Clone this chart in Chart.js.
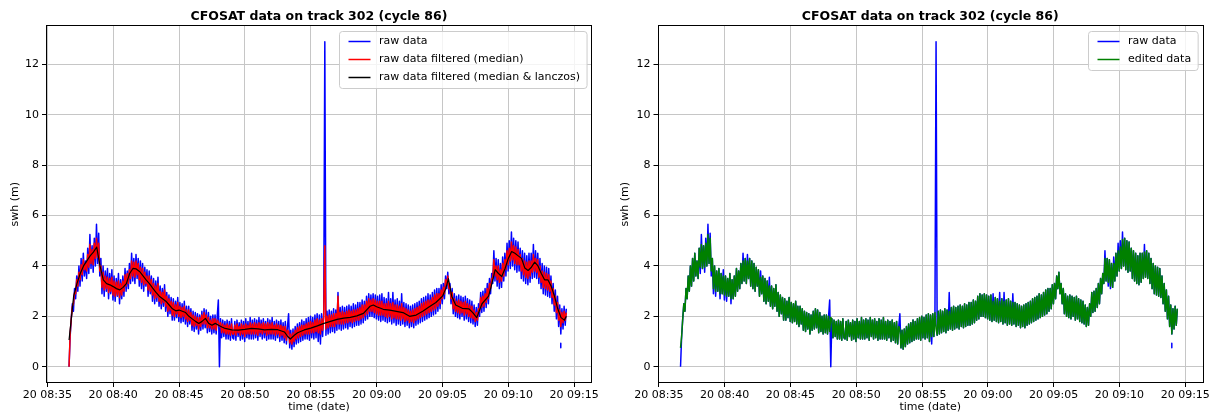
<!DOCTYPE html>
<html><head><meta charset="utf-8">
<script src="https://cdn.jsdelivr.net/npm/chart.js@4/dist/chart.umd.min.js"></script>
<style>
html,body{margin:0;padding:0;background:#fff;}
#wrap{position:relative;width:1217px;height:417px;overflow:hidden;}
.box{position:absolute;top:0;height:417px;}
canvas{display:block;}
</style></head><body>
<div id="wrap">
<div class="box" style="left:0;width:610px"><canvas id="c1" width="610" height="417"></canvas></div>
<div class="box" style="left:610px;width:607px"><canvas id="c2" width="607" height="417"></canvas></div>
</div>
<script>
// ---------- data (time in minutes after 08:00 on day 20) ----------
const chartTitle = 'CFOSAT data on track 302 (cycle 86)';
const xTickValues = [35, 40, 45, 50, 55, 60, 65, 70, 75];
const yTickValues = [0, 2, 4, 6, 8, 10, 12];
const xMin = 34.9, xMax = 76.35;
const yMin = -0.645, yMax = 13.545;

const rawStart = 36.65;      // 08:36:39
const rawStep = 1 / 12;      // 5 s sampling

const rawSwh = [
  0.0, 1.2, 1.9, 2.5, 2.2, 3.1,
  2.7, 3.6, 3.0, 4.0, 3.2, 4.3,
  3.4, 4.5, 3.6, 4.2, 3.5, 4.7,
  3.7, 5.25, 3.9, 4.8, 3.75, 5.1,
  4.0, 5.65, 4.1, 5.3, 3.6, 4.3,
  2.9, 4.0, 2.8, 3.8, 3.0, 3.9,
  2.7, 3.7, 2.9, 3.85, 2.65, 3.6,
  2.6, 3.5, 2.8, 3.7, 2.5, 3.45,
  2.7, 3.6, 2.8, 3.9, 3.0, 3.8,
  3.1, 4.1, 3.3, 4.5, 3.4, 4.3,
  3.3, 4.45, 3.5, 4.3, 3.2, 4.2,
  3.1, 4.1, 3.0, 3.95, 3.2, 3.85,
  2.8, 3.8, 2.9, 3.6, 2.6, 3.5,
  2.5, 3.4, 2.6, 3.55, 2.4, 3.2,
  2.3, 3.1, 2.4, 3.25, 2.2, 2.95,
  2.0, 2.85, 2.1, 2.75, 1.85, 2.7,
  1.85, 2.6, 1.95, 2.75, 1.8, 2.55,
  1.75, 2.5, 1.8, 2.6, 1.7, 2.4,
  1.6, 2.4, 1.7, 2.3, 1.45, 2.2,
  1.4, 2.15, 1.5, 2.1, 1.3, 2.05,
  1.45, 2.2, 1.5, 2.3, 1.55, 2.25,
  1.35, 2.15, 1.4, 2.0, 1.3, 2.05,
  1.35, 2.05, 1.3, 2.0, 2.65, 0.0,
  1.9, 1.15, 1.85, 1.2, 1.8, 1.1,
  1.85, 1.1, 1.8, 1.05, 1.9, 1.15,
  1.1, 1.8, 1.05, 1.85, 1.2, 1.75,
  1.05, 1.85, 1.1, 1.8, 1.0, 1.9,
  1.15, 1.8, 1.1, 1.95, 1.1, 1.85,
  1.1, 1.9, 1.15, 1.85, 1.05, 1.95,
  1.2, 1.85, 1.1, 1.9, 1.15, 1.8,
  1.05, 1.9, 1.1, 1.85, 1.1, 1.95,
  1.1, 1.8, 1.05, 1.85, 1.15, 1.8,
  1.0, 1.85, 1.05, 1.75, 0.95, 1.8,
  0.9, 1.6, 2.1, 0.75, 1.45, 0.7,
  1.5, 0.8, 1.6, 0.9, 1.7, 0.95,
  1.75, 1.0, 1.85, 1.05, 1.8, 1.1,
  1.9, 1.1, 1.95, 1.05, 2.0, 1.15,
  1.95, 1.1, 2.05, 1.15, 2.1, 1.0,
  2.05, 0.9, 2.1, 1.2, 2.15, 12.9,
  1.25, 2.2, 1.3, 2.25, 1.35, 2.2,
  1.4, 2.3, 1.35, 2.25, 1.45, 2.95,
  1.5, 2.35, 1.45, 2.4, 1.5, 2.35,
  1.55, 2.4, 1.5, 2.45, 1.6, 2.4,
  1.55, 2.5, 1.6, 2.45, 1.65, 2.55,
  1.65, 2.55, 1.7, 2.65, 1.75, 2.6,
  1.85, 2.8, 1.9, 2.9, 2.0, 2.85,
  2.0, 2.9, 1.95, 2.85, 1.9, 2.8,
  1.85, 2.85, 1.8, 2.9, 1.85, 2.75,
  1.8, 2.7, 1.75, 2.95, 1.8, 2.7,
  1.7, 2.95, 1.75, 2.65, 1.65, 2.7,
  1.7, 2.6, 1.65, 2.9, 1.7, 2.55,
  1.6, 2.5, 1.65, 2.45, 1.55, 2.4,
  1.6, 2.45, 1.55, 2.5, 1.65, 2.55,
  1.7, 2.6, 1.75, 2.7, 1.8, 2.75,
  1.85, 2.8, 1.9, 2.9, 1.95, 2.85,
  2.0, 2.95, 2.05, 3.05, 2.1, 3.1,
  2.2, 3.1, 2.3, 3.25, 2.5, 3.3,
  2.7, 3.6, 3.1, 3.75, 2.9, 3.3,
  2.5, 3.1, 2.1, 2.9, 2.0, 2.8,
  1.95, 2.85, 1.9, 2.8, 2.0, 2.75,
  1.85, 2.8, 1.9, 2.7, 1.8, 2.65,
  1.75, 2.6, 1.7, 2.45, 1.6, 2.35,
  1.65, 2.5, 2.0, 2.95, 2.15, 3.0,
  2.2, 3.1, 2.35, 3.3, 2.5, 3.5,
  2.9, 3.7, 3.3, 4.6, 3.4, 4.3,
  3.2, 4.25, 3.1, 4.1, 3.15, 4.35,
  3.4, 4.5, 3.6, 4.9, 3.8, 5.0,
  3.9, 5.35, 4.0, 5.1, 3.85, 5.0,
  3.75, 4.95, 3.8, 4.7, 3.5, 4.6,
  3.4, 4.5, 3.3, 4.4, 3.25, 4.5,
  3.35, 4.5, 3.5, 4.85, 3.55, 4.6,
  3.5, 4.5, 3.3, 4.3, 3.1, 4.1,
  2.9, 4.0, 2.85, 3.95, 2.8, 3.9,
  2.75, 3.6, 2.5, 3.3, 2.2, 3.05,
  1.9, 2.8, 1.6, 2.45, 1.3, 2.3,
  1.5, 2.4, 1.65, 2.3
];

const medianSwh = [
  0.0, 1.3, 1.9, 2.4, 2.5, 2.95,
  2.9, 3.45, 3.2, 3.75, 3.45, 4.05,
  3.65, 4.25, 3.85, 4.1, 3.8, 4.45,
  3.95, 4.85, 4.1, 4.65, 4.05, 4.9,
  4.3, 5.1, 4.35, 4.9, 3.8, 4.0,
  3.15, 3.75, 3.05, 3.6, 3.1, 3.55,
  2.95, 3.5, 3.0, 3.55, 2.85, 3.4,
  2.8, 3.35, 2.85, 3.4, 2.75, 3.3,
  2.85, 3.4, 3.0, 3.65, 3.2, 3.7,
  3.3, 3.85, 3.5, 4.2, 3.6, 4.15,
  3.55, 4.2, 3.65, 4.1, 3.45, 3.95,
  3.35, 3.9, 3.25, 3.75, 3.3, 3.6,
  3.05, 3.6, 3.0, 3.45, 2.85, 3.3,
  2.7, 3.2, 2.75, 3.3, 2.6, 3.0,
  2.5, 2.95, 2.55, 3.05, 2.4, 2.8,
  2.2, 2.7, 2.25, 2.6, 2.05, 2.55,
  2.0, 2.45, 2.1, 2.55, 2.0, 2.4,
  1.95, 2.35, 2.0, 2.4, 1.9, 2.25,
  1.8, 2.25, 1.85, 2.15, 1.65, 2.05,
  1.6, 2.0, 1.65, 1.95, 1.5, 1.95,
  1.6, 2.05, 1.7, 2.15, 1.7, 2.05,
  1.55, 1.95, 1.55, 1.85, 1.5, 1.9,
  1.5, 1.9, 1.45, 1.85, 1.8, 1.6,
  1.75, 1.35, 1.7, 1.35, 1.65, 1.3,
  1.7, 1.3, 1.65, 1.25, 1.7, 1.3,
  1.3, 1.65, 1.25, 1.7, 1.35, 1.6,
  1.25, 1.7, 1.3, 1.65, 1.2, 1.7,
  1.3, 1.65, 1.3, 1.75, 1.3, 1.7,
  1.3, 1.75, 1.3, 1.7, 1.25, 1.75,
  1.35, 1.7, 1.3, 1.75, 1.35, 1.7,
  1.25, 1.75, 1.3, 1.7, 1.3, 1.75,
  1.3, 1.65, 1.25, 1.7, 1.3, 1.65,
  1.2, 1.65, 1.25, 1.6, 1.15, 1.6,
  1.05, 1.45, 1.4, 0.95, 1.3, 0.9,
  1.35, 1.0, 1.45, 1.1, 1.55, 1.15,
  1.6, 1.2, 1.65, 1.25, 1.65, 1.3,
  1.7, 1.3, 1.75, 1.3, 1.8, 1.35,
  1.75, 1.35, 1.85, 1.4, 1.9, 1.35,
  1.85, 1.3, 1.9, 1.45, 1.95, 4.8,
  1.5, 2.0, 1.55, 2.05, 1.6, 2.05,
  1.6, 2.1, 1.6, 2.1, 1.7, 2.8,
  1.7, 2.15, 1.7, 2.2, 1.7, 2.15,
  1.75, 2.2, 1.75, 2.25, 1.8, 2.2,
  1.75, 2.25, 1.8, 2.25, 1.85, 2.3,
  1.85, 2.35, 1.9, 2.45, 1.95, 2.45,
  2.05, 2.6, 2.1, 2.7, 2.2, 2.65,
  2.2, 2.7, 2.15, 2.65, 2.1, 2.6,
  2.05, 2.6, 2.05, 2.6, 2.05, 2.5,
  2.0, 2.5, 1.95, 2.6, 2.0, 2.5,
  1.9, 2.55, 1.95, 2.45, 1.9, 2.45,
  1.9, 2.4, 1.85, 2.5, 1.9, 2.35,
  1.8, 2.3, 1.85, 2.25, 1.75, 2.2,
  1.8, 2.25, 1.75, 2.3, 1.85, 2.35,
  1.9, 2.4, 1.95, 2.5, 2.0, 2.55,
  2.05, 2.6, 2.1, 2.65, 2.15, 2.65,
  2.2, 2.75, 2.25, 2.85, 2.3, 2.9,
  2.4, 2.9, 2.5, 3.05, 2.7, 3.15,
  2.9, 3.45, 3.25, 3.6, 3.1, 3.15,
  2.7, 2.95, 2.3, 2.7, 2.2, 2.6,
  2.15, 2.65, 2.1, 2.6, 2.15, 2.55,
  2.05, 2.6, 2.1, 2.5, 2.0, 2.45,
  1.95, 2.4, 1.9, 2.25, 1.8, 2.15,
  1.85, 2.3, 2.2, 2.75, 2.35, 2.8,
  2.4, 2.9, 2.55, 3.1, 2.7, 3.3,
  3.1, 3.5, 3.5, 4.25, 3.6, 4.0,
  3.45, 4.0, 3.35, 3.85, 3.4, 4.1,
  3.6, 4.25, 3.85, 4.6, 4.05, 4.7,
  4.2, 4.95, 4.25, 4.8, 4.1, 4.75,
  4.05, 4.65, 4.05, 4.45, 3.8, 4.3,
  3.65, 4.2, 3.55, 4.15, 3.5, 4.2,
  3.6, 4.2, 3.75, 4.45, 3.8, 4.3,
  3.75, 4.25, 3.55, 4.0, 3.35, 3.8,
  3.15, 3.75, 3.1, 3.7, 3.05, 3.65,
  3.0, 3.4, 2.75, 3.1, 2.45, 2.8,
  2.15, 2.55, 1.85, 2.25, 1.6, 2.15,
  1.75, 2.2, 1.85, 2.15
];

const editedSwh = [
  0.75, 1.2, 1.9, 2.5, 2.2, 3.1,
  2.7, 3.6, 3.0, 4.0, 3.2, 4.3,
  3.4, 4.5, 3.6, 4.2, 3.5, 4.7,
  3.95, 4.85, 3.9, 4.8, 3.95, 4.9,
  4.0, 5.25, 4.1, 5.1, 3.8, 4.3,
  3.1, 4.0, 3.0, 3.8, 3.0, 3.9,
  2.9, 3.7, 2.9, 3.6, 2.85, 3.6,
  2.8, 3.5, 2.8, 3.7, 2.7, 3.45,
  2.7, 3.6, 2.8, 3.9, 3.0, 3.8,
  3.1, 4.1, 3.3, 4.2, 3.4, 4.3,
  3.3, 4.2, 3.5, 4.3, 3.2, 4.2,
  3.1, 4.1, 3.0, 3.95, 3.2, 3.85,
  2.8, 3.55, 2.9, 3.6, 2.6, 3.5,
  2.5, 3.4, 2.6, 3.2, 2.4, 3.2,
  2.3, 3.1, 2.4, 3.25, 2.2, 2.95,
  2.0, 2.85, 2.1, 2.75, 1.85, 2.7,
  1.85, 2.6, 1.95, 2.75, 1.8, 2.55,
  1.75, 2.5, 1.8, 2.6, 1.7, 2.4,
  1.6, 2.4, 1.7, 2.3, 1.45, 2.2,
  1.4, 2.15, 1.5, 2.1, 1.3, 2.05,
  1.45, 2.2, 1.5, 2.3, 1.55, 2.25,
  1.35, 2.15, 1.4, 2.0, 1.3, 2.05,
  1.35, 2.05, 1.3, 2.0, 1.4, 1.95,
  1.9, 1.15, 1.85, 1.2, 1.8, 1.1,
  1.85, 1.1, 1.8, 1.05, 1.9, 1.15,
  1.1, 1.8, 1.05, 1.85, 1.2, 1.75,
  1.05, 1.85, 1.1, 1.8, 1.0, 1.9,
  1.15, 1.8, 1.1, 1.95, 1.1, 1.85,
  1.1, 1.9, 1.15, 1.85, 1.05, 1.95,
  1.2, 1.85, 1.1, 1.9, 1.15, 1.8,
  1.05, 1.9, 1.1, 1.85, 1.1, 1.95,
  1.1, 1.8, 1.05, 1.85, 1.15, 1.8,
  1.0, 1.85, 1.05, 1.75, 0.95, 1.8,
  0.9, 1.6, 1.5, 0.75, 1.45, 0.7,
  1.5, 0.8, 1.6, 0.9, 1.7, 0.95,
  1.75, 1.0, 1.85, 1.05, 1.8, 1.1,
  1.9, 1.1, 1.95, 1.05, 2.0, 1.15,
  1.95, 1.1, 2.05, 1.15, 2.1, 1.0,
  2.05, 1.2, 2.1, 1.2, 2.15, 1.5,
  1.25, 2.2, 1.3, 2.25, 1.35, 2.2,
  1.4, 2.3, 1.35, 2.25, 1.45, 2.2,
  1.5, 2.35, 1.45, 2.4, 1.5, 2.35,
  1.55, 2.4, 1.5, 2.45, 1.6, 2.4,
  1.55, 2.5, 1.6, 2.45, 1.65, 2.55,
  1.65, 2.55, 1.7, 2.65, 1.75, 2.6,
  1.85, 2.8, 1.9, 2.9, 2.0, 2.85,
  2.0, 2.9, 1.95, 2.85, 1.9, 2.8,
  1.85, 2.85, 1.8, 2.6, 1.85, 2.75,
  1.8, 2.7, 1.75, 2.6, 1.8, 2.7,
  1.7, 2.6, 1.75, 2.65, 1.65, 2.7,
  1.7, 2.6, 1.65, 2.55, 1.7, 2.55,
  1.6, 2.5, 1.65, 2.45, 1.55, 2.4,
  1.6, 2.45, 1.55, 2.5, 1.65, 2.55,
  1.7, 2.6, 1.75, 2.7, 1.8, 2.75,
  1.85, 2.8, 1.9, 2.9, 1.95, 2.85,
  2.0, 2.95, 2.05, 3.05, 2.1, 3.1,
  2.2, 3.1, 2.3, 3.25, 2.5, 3.3,
  2.7, 3.6, 3.1, 3.75, 2.9, 3.3,
  2.5, 3.1, 2.1, 2.9, 2.0, 2.8,
  1.95, 2.85, 1.9, 2.8, 2.0, 2.75,
  1.85, 2.8, 1.9, 2.7, 1.8, 2.65,
  1.75, 2.6, 1.7, 2.45, 1.6, 2.35,
  1.65, 2.5, 2.0, 2.95, 2.15, 3.0,
  2.2, 3.1, 2.35, 3.3, 2.5, 3.5,
  2.9, 3.7, 3.3, 4.3, 3.4, 4.3,
  3.35, 4.25, 3.2, 4.1, 3.15, 4.1,
  3.4, 4.5, 3.6, 4.6, 3.8, 4.75,
  3.9, 5.05, 4.0, 5.1, 3.85, 5.0,
  3.75, 4.95, 3.8, 4.7, 3.5, 4.6,
  3.4, 4.5, 3.3, 4.4, 3.25, 4.5,
  3.35, 4.5, 3.5, 4.55, 3.55, 4.6,
  3.5, 4.5, 3.3, 4.3, 3.1, 4.1,
  2.9, 4.0, 2.85, 3.95, 2.8, 3.9,
  2.75, 3.6, 2.5, 3.3, 2.2, 3.05,
  1.9, 2.8, 1.6, 2.45, 1.3, 2.3,
  1.5, 2.4, 1.65, 2.3
];

const lanczosTime = [
  36.65, 36.8, 37.0, 37.25, 37.5, 37.75, 38.0, 38.25, 38.5, 38.75,
  39.0, 39.25, 39.5, 39.75, 40.0, 40.25, 40.5, 40.75, 41.0,
  41.25, 41.5, 41.75, 42.0, 42.25, 42.5, 42.75, 43.0, 43.25, 43.5, 43.75,
  44.0, 44.25, 44.5, 44.75, 45.0, 45.25, 45.5, 45.75, 46.0, 46.25,
  46.5, 46.75, 47.0, 47.25, 47.5, 47.75, 48.0, 48.25, 48.5,
  49.0, 49.5, 50.0, 50.5, 51.0, 51.5, 52.0, 52.5, 53.0,
  53.25, 53.45, 53.75,
  54.0, 54.5, 55.0, 55.5, 56.0, 56.5, 57.0, 57.5, 58.0, 58.5, 59.0, 59.5,
  59.75,
  60.0, 60.5, 61.0, 61.5, 62.0, 62.5, 63.0, 63.5, 64.0, 64.5, 65.0,
  65.25, 65.45, 65.7, 66.0, 66.5, 67.0, 67.3, 67.6, 68.0, 68.5,
  68.75, 69.0, 69.25, 69.5, 69.75, 70.0, 70.25, 70.5, 70.75, 71.0, 71.25,
  71.5, 71.75, 72.0, 72.25, 72.5, 72.75, 73.0, 73.25, 73.5, 73.75, 74.0, 74.25,
  74.4
];
const lanczosSwh = [
  1.06, 1.8, 2.8, 3.3, 3.7, 4.0, 4.2, 4.4, 4.55, 4.75,
  4.0, 3.45, 3.3, 3.25, 3.18, 3.1, 3.05, 3.15, 3.3,
  3.7, 3.9, 3.88, 3.78, 3.62, 3.45, 3.3, 3.12, 2.95, 2.8, 2.7,
  2.6, 2.45, 2.3, 2.22, 2.25, 2.2, 2.15, 2.0, 1.9, 1.8,
  1.72, 1.8, 1.92, 1.72, 1.65, 1.72, 1.65, 1.58, 1.52,
  1.46, 1.45, 1.48, 1.52, 1.5, 1.46, 1.48, 1.47, 1.38,
  1.2, 1.1, 1.25,
  1.35, 1.46, 1.53, 1.62, 1.72, 1.8, 1.88, 1.93, 1.96, 2.02, 2.12, 2.4,
  2.45,
  2.38, 2.28, 2.25, 2.2, 2.15, 2.0, 2.05, 2.2, 2.38, 2.55, 2.8,
  3.1, 3.5, 2.8, 2.45, 2.32, 2.3, 2.15, 1.95, 2.5, 2.8,
  3.3, 3.85, 3.7, 3.58, 3.9, 4.3, 4.57, 4.5, 4.4, 4.3, 3.92,
  3.82, 3.95, 4.15, 4.0, 3.7, 3.45, 3.45, 3.2, 2.8, 2.3, 1.95, 1.85,
  2.0
];

// isolated raw samples (surrounded by missing data)
const rawIsolatedTime = [73.98, 73.98];
const rawIsolatedSwh = [0.93, 0.75];

// ---------- helpers ----------
const FONT = 'DejaVu Sans';
Chart.defaults.font.family = FONT;
Chart.defaults.font.size = 11;
Chart.defaults.color = '#000';

const pad2 = n => String(n).padStart(2, '0');
const fmtTime = v => {
  const h = 8 + Math.floor(v / 60);
  const m = Math.round(v - 60 * Math.floor(v / 60));
  return '20 ' + pad2(h) + ':' + pad2(m);
};
const sampled = arr => arr.map((v, i) => ({x: rawStart + i * rawStep, y: v}));
const paired = (ts, vs) => ts.map((t, i) => ({x: t, y: vs[i]}));

const lineDs = (label, data, color, order, inLegend, width) => ({
  label, data, borderColor: color, backgroundColor: color,
  borderWidth: width || 1.5, pointRadius: 0, tension: 0, fill: false,
  borderJoinStyle: 'round', order, inLegend
});

const framePlugin = {
  id: 'mplFrame',
  afterDatasetsDraw(chart) {
    const {ctx, chartArea: a} = chart;
    ctx.save();
    ctx.strokeStyle = '#000';
    ctx.lineWidth = 1;
    ctx.strokeRect(Math.round(a.left) + 0.5, Math.round(a.top) + 0.5,
                   Math.round(a.right - a.left) - 1, Math.round(a.bottom - a.top) - 1);
    // legend
    const items = chart.data.datasets.filter(d => d.inLegend);
    ctx.font = '11px "' + FONT + '"';
    const tw = Math.max(...items.map(d => ctx.measureText(d.label).width));
    const padL = 9, handle = 22, gap = 8.5, padR = 7, row = 18;
    const w = padL + handle + gap + tw + padR;
    const h = 21 + row * (items.length - 1);
    const x0 = Math.round(a.right - 5.5 - w) + 0.5;
    const y0 = Math.round(a.top + 6) + 0.5;
    const r = 3;
    ctx.beginPath();
    ctx.moveTo(x0 + r, y0);
    ctx.lineTo(x0 + w - r, y0); ctx.arcTo(x0 + w, y0, x0 + w, y0 + r, r);
    ctx.lineTo(x0 + w, y0 + h - r); ctx.arcTo(x0 + w, y0 + h, x0 + w - r, y0 + h, r);
    ctx.lineTo(x0 + r, y0 + h); ctx.arcTo(x0, y0 + h, x0, y0 + h - r, r);
    ctx.lineTo(x0, y0 + r); ctx.arcTo(x0, y0, x0 + r, y0, r);
    ctx.closePath();
    ctx.fillStyle = 'rgba(255,255,255,0.8)';
    ctx.fill();
    ctx.strokeStyle = '#cccccc';
    ctx.stroke();
    items.forEach((d, k) => {
      const cy = y0 + 10 + k * row;
      ctx.beginPath();
      ctx.strokeStyle = d.borderColor;
      ctx.lineWidth = 1.5;
      ctx.moveTo(x0 + padL, cy);
      ctx.lineTo(x0 + padL + handle, cy);
      ctx.stroke();
      ctx.fillStyle = '#000';
      ctx.textBaseline = 'middle';
      ctx.textAlign = 'left';
      ctx.fillText(d.label, x0 + padL + handle + gap, cy);
    });
    ctx.restore();
  }
};

function makeOptions(yWidth, rightPad) {
  const grid = {color: '#c6c6c6', lineWidth: 1, drawTicks: true, tickLength: 4,
                tickColor: '#000', tickWidth: 1};
  return {
    responsive: false, animation: false, events: [],
    layout: {padding: {left: 0, right: rightPad, top: 0, bottom: 0}},
    plugins: {
      legend: {display: false}, tooltip: {enabled: false},
      title: {display: true, text: chartTitle, fullSize: false, color: '#000',
              font: {family: FONT, size: 12.5, weight: 'bold'},
              padding: {top: 9.5, bottom: 0.9}}
    },
    scales: {
      x: {
        type: 'linear', min: xMin, max: xMax,
        afterBuildTicks: s => { s.ticks = xTickValues.map(v => ({value: v})); },
        afterFit: s => { s.height = 34; },
        ticks: {callback: v => fmtTime(v), autoSkip: false, maxRotation: 0, minRotation: 0,
                padding: 2, color: '#000', font: {size: 11}},
        grid, border: {display: false},
        title: {display: true, text: 'time (date)', color: '#000', font: {size: 11},
                padding: {top: 0, bottom: 3.4}}
      },
      y: {
        type: 'linear', min: yMin, max: yMax,
        afterBuildTicks: s => { s.ticks = yTickValues.map(v => ({value: v})); },
        afterFit: s => { s.width = yWidth; },
        ticks: {padding: 3, color: '#000', font: {size: 11}},
        grid, border: {display: false},
        title: {display: true, text: 'swh (m)', color: '#000', font: {size: 11},
                padding: {top: 8.4, bottom: 0}}
      }
    }
  };
}

new Chart(document.getElementById('c1'), {
  type: 'line',
  data: {datasets: [
    lineDs('raw data', sampled(rawSwh), '#0000ff', 3, true),
    lineDs('raw data filtered (median)', sampled(medianSwh), '#ff0000', 2, true),
    lineDs('raw data filtered (median & lanczos)', paired(lanczosTime, lanczosSwh), '#000000', 1, true, 1.2),
    lineDs('raw data (isolated)', paired(rawIsolatedTime, rawIsolatedSwh), '#0000ff', 4, false)
  ]},
  options: makeOptions(46, 18),
  plugins: [framePlugin]
});

new Chart(document.getElementById('c2'), {
  type: 'line',
  data: {datasets: [
    lineDs('raw data', sampled(rawSwh), '#0000ff', 2, true),
    lineDs('edited data', sampled(editedSwh), '#008000', 1, true),
    lineDs('raw data (isolated)', paired(rawIsolatedTime, rawIsolatedSwh), '#0000ff', 3, false)
  ]},
  options: makeOptions(47.5, 14),
  plugins: [framePlugin]
});
</script>
</body></html>
